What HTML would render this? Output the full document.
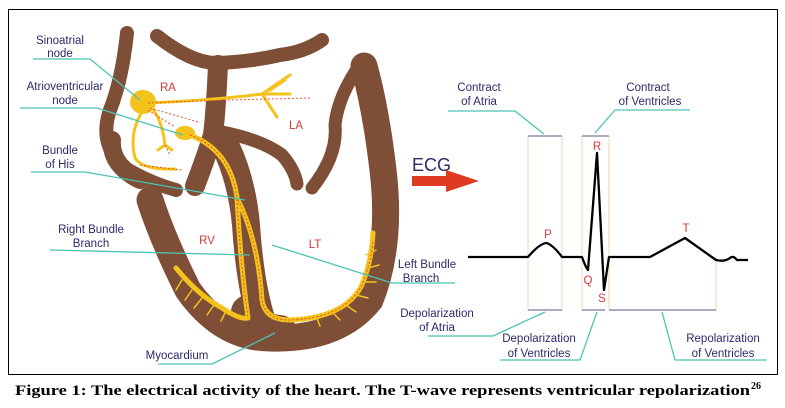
<!DOCTYPE html>
<html><head><meta charset="utf-8"><style>
html,body{margin:0;padding:0;background:#fff;}
svg{display:block}
.l{font-family:"Liberation Sans",sans-serif;font-size:11.5px;fill:#2b2a6b;text-anchor:middle}
.r{font-family:"Liberation Sans",sans-serif;font-size:11.5px;fill:#d33a3a;text-anchor:middle}
.t{stroke:#4cc3b3;stroke-width:1.3;fill:none}
.b{stroke:#7e4e37;fill:none;stroke-linecap:round;stroke-linejoin:round}
.y{stroke:#f3c21b;fill:none;stroke-linecap:round;stroke-linejoin:round}
.d{stroke:#e0542a;fill:none;stroke-width:1;stroke-dasharray:2 2}
.v{stroke:#f3d3b3;stroke-width:1;fill:none}
.a{stroke:#5c5a8a;stroke-width:1;fill:none}
</style></head><body>
<svg width="785" height="408" viewBox="0 0 785 408" xmlns="http://www.w3.org/2000/svg">
<rect x="8.5" y="9.5" width="769" height="365" fill="#fff" stroke="#000" stroke-width="1"/>
<!-- heart muscle -->
<path class="b" stroke-width="14" d="M127,33 Q122,80 110,110 Q98,145 125,168 Q150,183 176,190"/>
<path class="b" stroke-width="18" d="M112,140 Q110,165 140,180"/>
<path class="b" stroke-width="27" d="M150,200 Q163,240 188,290 Q222,338 270,338 Q338,340 370,300 Q392,245 383,170 Q376,110 364,66"/>
<path class="b" stroke-width="34" d="M248,312 Q262,332 280,332"/>
<path class="b" stroke-width="14" d="M157,36 Q190,62 215,63 Q250,62 280,55 Q305,52 322,40"/>
<path class="b" stroke-width="20" d="M218,65 Q216,110 213,135 Q205,160 195,186"/>
<path class="b" stroke-width="28" d="M225,145 Q242,180 246,225 Q250,285 262,322"/>
<path class="b" stroke-width="13" d="M222,132 Q262,140 282,155 Q295,170 297,184"/>
<path class="b" stroke-width="13" d="M362,62 Q338,95 335,125 Q338,155 312,188"/>
<!-- conduction -->
<ellipse cx="143" cy="102" rx="13" ry="12" fill="#f3c21b"/>
<ellipse cx="185" cy="133" rx="10" ry="7" fill="#f3c21b"/>
<path class="y" stroke-width="3" d="M148,103 Q215,100 262,94 L290,75 M262,94 L290,94 M262,94 L277,117 M270,90 L285,80 M146,106 Q128,130 135,158 Q142,170 175,169 M152,108 Q162,120 165,145 L158,150 M165,145 L172,150"/>
<path class="y" stroke-width="5" d="M190,135 Q230,150 237,197 Q240,260 248,318 Q240,320 222,308 Q198,295 176,268 M238,200 Q258,240 262,300 Q265,320 290,320 Q345,318 362,285 Q372,260 373,233"/>
<path class="y" stroke-width="1.5" d="M182,280 L176,290 M192,290 L185,300 M202,298 L194,308 M214,305 L207,315 M226,311 L221,321 M366,255 L376,250 M368,268 L379,265 M364,282 L376,282 M356,295 L368,298 M346,305 L356,312 M332,312 L340,320 M316,316 L320,326"/>
<path class="d" d="M148,103 Q215,100 312,98 M150,108 L198,122 M148,110 L175,127 M165,145 L170,155 M140,165 L182,170 M190,135 Q230,150 237,197 Q240,260 248,318 M238,200 Q258,240 262,300 Q265,320 290,320 Q345,318 362,285 Q372,260 373,240"/>
<text class="r" x="168" y="91">RA</text><text class="r" x="296" y="129">LA</text>
<text class="r" x="207" y="244">RV</text><text class="r" x="315" y="248">LT</text>
<!-- left labels -->
<text class="l" x="60" y="44">Sinoatrial</text><text class="l" x="60" y="57">node</text>
<path class="t" d="M33,59 L90,59 L140,100"/>
<text class="l" x="65" y="90">Atrioventricular</text><text class="l" x="65" y="104">node</text>
<path class="t" d="M20,108 L97,108 L183,135"/>
<text class="l" x="60" y="154">Bundle</text><text class="l" x="60" y="168">of His</text>
<path class="t" d="M31,172 L85,172 L245,200"/>
<text class="l" x="91" y="233">Right Bundle</text><text class="l" x="91" y="247">Branch</text>
<path class="t" d="M50,250 L250,255"/>
<text class="l" x="177" y="359">Myocardium</text>
<path class="t" d="M158,364 L212,364 L275,333"/>
<text class="l" x="427" y="268">Left Bundle</text><text class="l" x="421" y="282">Branch</text>
<path class="t" d="M272,245 L392,283 L455,283"/>
<!-- ECG -->
<text x="412" y="171" style="font-family:'Liberation Sans',sans-serif;font-size:18px;fill:#2b2a6b">ECG</text>
<path d="M412,176 L446,176 L446,170 L479,181 L446,192 L446,186 L412,186 Z" fill="#e03a22"/>
<path class="v" d="M528,136 V310 M562,136 V310 M582,136 V310 M609,136 V310 M716,257 V310"/>
<path class="a" d="M528,136 H562 M582,136 H609 M528,310 H562 M582,310 H605 M609,310 H716"/>
<path d="M468,257 L528,257 Q540,243 547,243 Q554,246 562,257 L582,257 Q586,268 588,270 L597,153 L604,290 L609,257 L650,257 L685,238 L716,260 Q725,262 730,258 Q733,255 737,260 L748,260" fill="none" stroke="#000" stroke-width="2.3" stroke-linejoin="round"/>
<text class="r" x="548" y="238">P</text><text class="r" x="597" y="150">R</text>
<text class="r" x="588" y="284">Q</text><text class="r" x="602" y="302">S</text>
<text class="r" x="686" y="232">T</text>
<text class="l" x="479" y="91">Contract</text><text class="l" x="479" y="105">of Atria</text>
<path class="t" d="M448,111 L515,111 L544,134"/>
<text class="l" x="648" y="91">Contract</text><text class="l" x="650" y="105">of Ventricles</text>
<path class="t" d="M615,110 L690,110 M615,110 L595,133"/>
<text class="l" x="437" y="317">Depolarization</text><text class="l" x="437" y="331">of Atria</text>
<path class="t" d="M428,336 L493,336 L545,312"/>
<text class="l" x="539" y="342">Depolarization</text><text class="l" x="539" y="357">of Ventricles</text>
<path class="t" d="M500,360 L580,360 L597,312"/>
<text class="l" x="723" y="342">Repolarization</text><text class="l" x="723" y="357">of Ventricles</text>
<path class="t" d="M675,360 L767,360 M675,360 L662,312"/>
<!-- caption -->
<text x="15" y="395" textLength="735" lengthAdjust="spacingAndGlyphs" style="font-family:'Liberation Serif',serif;font-weight:bold;font-size:15px;fill:#000">Figure 1: The electrical activity of the heart. The T-wave represents ventricular repolarization</text>
<text x="751" y="389" style="font-family:'Liberation Serif',serif;font-weight:bold;font-size:10px;fill:#000">26</text>
</svg>
</body></html>
